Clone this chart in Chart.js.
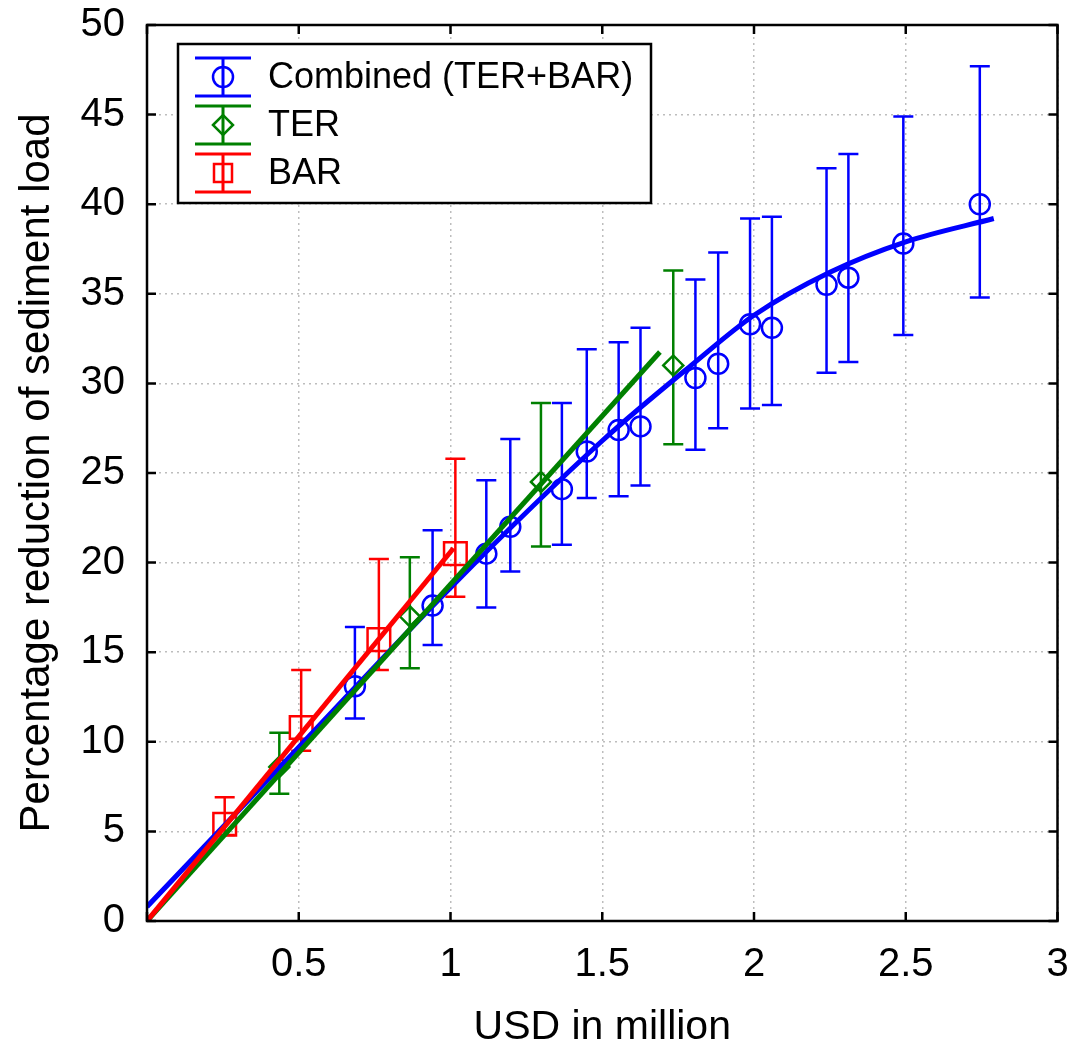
<!DOCTYPE html>
<html>
<head>
<meta charset="utf-8">
<script src="https://cdn.jsdelivr.net/npm/chart.js@4.4.1/dist/chart.umd.min.js"></script>
<style>
body { margin: 0; background: #fff; }
#wrap { width: 1076px; height: 1052px; }
</style>
</head>
<body>
<div id="wrap"><canvas id="chart"></canvas></div>
<script>
// observed points (x in million USD, y in %), with error bar ends
var combinedX = [0.685, 0.941, 1.118, 1.197, 1.367, 1.449, 1.554, 1.626, 1.807, 1.882, 1.987, 2.059, 2.239, 2.311, 2.492, 2.744];
var combinedY = [13.1, 17.6, 20.5, 22.0, 24.1, 26.2, 27.4, 27.6, 30.3, 31.1, 33.3, 33.1, 35.5, 35.9, 37.8, 40.0];
var combinedLow = [11.3, 15.4, 17.5, 19.5, 21.0, 23.6, 23.7, 24.3, 26.3, 27.5, 28.6, 28.8, 30.6, 31.2, 32.7, 34.8];
var combinedHigh = [16.4, 21.8, 24.6, 26.9, 28.9, 31.9, 32.3, 33.1, 35.8, 37.3, 39.2, 39.3, 42.0, 42.8, 44.9, 47.7];

var terX = [0.436, 0.866, 1.298, 1.734];
var terY = [8.6, 17.0, 24.5, 31.0];
var terLow = [7.1, 14.1, 20.9, 26.6];
var terHigh = [10.5, 20.3, 28.9, 36.3];

var barX = [0.256, 0.508, 0.764, 1.016];
var barY = [5.4, 10.8, 15.7, 20.5];
var barLow = [4.8, 9.5, 14.0, 18.1];
var barHigh = [6.9, 14.0, 20.2, 25.8];

// fitted curves
var fitCombinedX = [0, 0.5, 1, 1.5, 1.8, 2, 2.25, 2.5, 2.79];
var fitCombinedY = [0.8, 9.7, 18.6, 26.8, 31.1, 33.8, 36.2, 37.9, 39.2];
var fitTerX = [0, 1.69];
var fitTerY = [0, 31.75];
var fitBarX = [0, 1.01];
var fitBarY = [0, 20.8];

var xTickValues = [0, 0.5, 1, 1.5, 2, 2.5, 3];
var yTickValues = [0, 5, 10, 15, 20, 25, 30, 35, 40, 45, 50];

var FONT = "'Liberation Sans', Arial, sans-serif";
var BLUE = "#0000ff", GREEN = "#008000", RED = "#ff0000";

function toPoints(xs, ys) {
    var pts = [];
    for (var i = 0; i < xs.length; i++) pts.push({ x: xs[i], y: ys[i] });
    return pts;
}

function drawMarker(ctx, style, x, y, r) {
    ctx.beginPath();
    if (style === "circle") {
        ctx.arc(x, y, r, 0, Math.PI * 2);
    } else if (style === "rectRot") {
        ctx.moveTo(x - r, y); ctx.lineTo(x, y - r); ctx.lineTo(x + r, y); ctx.lineTo(x, y + r);
        ctx.closePath();
    } else {
        ctx.rect(x - r, y - r, 2 * r, 2 * r);
    }
    ctx.stroke();
}

var plotExtras = {
    id: "plotExtras",
    beforeDatasetsDraw: function (chart) {
        var ctx = chart.ctx, ys = chart.scales.y;
        ctx.save();
        chart.data.datasets.forEach(function (ds, i) {
            if (!ds.errLow) return;
            var meta = chart.getDatasetMeta(i);
            ctx.strokeStyle = ds.borderColor;
            ctx.lineWidth = 2.5;
            meta.data.forEach(function (pt, j) {
                var top = ys.getPixelForValue(ds.errHigh[j]);
                var bot = ys.getPixelForValue(ds.errLow[j]);
                ctx.beginPath();
                ctx.moveTo(pt.x, top); ctx.lineTo(pt.x, bot);
                ctx.moveTo(pt.x - 10, top); ctx.lineTo(pt.x + 10, top);
                ctx.moveTo(pt.x - 10, bot); ctx.lineTo(pt.x + 10, bot);
                ctx.stroke();
            });
        });
        ctx.restore();
    },
    afterDatasetsDraw: function (chart) {
        var ctx = chart.ctx, a = chart.chartArea;
        var xs = chart.scales.x, ys = chart.scales.y;
        ctx.save();
        // frame and inward ticks
        ctx.strokeStyle = "#000";
        ctx.lineWidth = 2.5;
        ctx.strokeRect(a.left, a.top, a.right - a.left, a.bottom - a.top);
        ctx.beginPath();
        xTickValues.forEach(function (v) {
            var px = xs.getPixelForValue(v);
            ctx.moveTo(px, a.bottom); ctx.lineTo(px, a.bottom - 9);
            ctx.moveTo(px, a.top); ctx.lineTo(px, a.top + 9);
        });
        yTickValues.forEach(function (v) {
            var py = ys.getPixelForValue(v);
            ctx.moveTo(a.left, py); ctx.lineTo(a.left + 9, py);
            ctx.moveTo(a.right, py); ctx.lineTo(a.right - 9, py);
        });
        ctx.stroke();

        // legend box
        var bx = a.left + 31, by = a.top + 19, bw = 473, bh = 159;
        ctx.fillStyle = "#fff";
        ctx.fillRect(bx, by, bw, bh);
        ctx.lineWidth = 2.5;
        ctx.strokeRect(bx, by, bw, bh);
        var entries = chart.data.datasets.filter(function (d) { return d.errLow; });
        entries.forEach(function (ds, k) {
            var cy = by + 33 + k * 48;
            var cx = bx + 45;
            ctx.strokeStyle = ds.borderColor;
            ctx.lineWidth = 3;
            ctx.beginPath();
            ctx.moveTo(cx - 28, cy - 19); ctx.lineTo(cx + 28, cy - 19);
            ctx.moveTo(cx - 28, cy + 19); ctx.lineTo(cx + 28, cy + 19);
            ctx.moveTo(cx, cy - 19); ctx.lineTo(cx, cy + 19);
            ctx.stroke();
            ctx.lineWidth = 2.5;
            drawMarker(ctx, ds.pointStyle, cx, cy, ds.pointStyle === "rect" ? 9 : 10);
            ctx.fillStyle = "#000";
            ctx.font = "36px " + FONT;
            ctx.textBaseline = "middle";
            ctx.textAlign = "left";
            ctx.fillText(ds.label, bx + 90, cy + 1);
        });
        ctx.restore();
    }
};

var chart = new Chart(document.getElementById("chart"), {
    type: "scatter",
    data: {
        datasets: [
            {
                label: "Combined (TER+BAR)",
                data: toPoints(combinedX, combinedY),
                errLow: combinedLow, errHigh: combinedHigh,
                pointStyle: "circle", pointRadius: 10, pointBorderWidth: 2.5,
                borderColor: BLUE, backgroundColor: "rgba(0,0,0,0)",
                order: 6
            },
            {
                label: "TER",
                data: toPoints(terX, terY),
                errLow: terLow, errHigh: terHigh,
                pointStyle: "rectRot", pointRadius: 10, pointBorderWidth: 2.5,
                borderColor: GREEN, backgroundColor: "rgba(0,0,0,0)",
                order: 5
            },
            {
                label: "BAR",
                data: toPoints(barX, barY),
                errLow: barLow, errHigh: barHigh,
                pointStyle: "rect", pointRadius: 16, pointBorderWidth: 2.5,
                borderColor: RED, backgroundColor: "rgba(0,0,0,0)",
                order: 4
            },
            {
                label: "fit combined",
                data: toPoints(fitCombinedX, fitCombinedY),
                showLine: true, pointRadius: 0, borderWidth: 5,
                borderColor: BLUE, cubicInterpolationMode: "monotone",
                order: 3
            },
            {
                label: "fit TER",
                data: toPoints(fitTerX, fitTerY),
                showLine: true, pointRadius: 0, borderWidth: 5,
                borderColor: GREEN,
                order: 2
            },
            {
                label: "fit BAR",
                data: toPoints(fitBarX, fitBarY),
                showLine: true, pointRadius: 0, borderWidth: 5,
                borderColor: RED,
                order: 1
            }
        ]
    },
    options: {
        responsive: true,
        maintainAspectRatio: false,
        animation: false,
        layout: { padding: { left: 0, right: 4, top: 25, bottom: 0 } },
        plugins: {
            legend: { display: false },
            tooltip: { enabled: false }
        },
        scales: {
            x: {
                type: "linear",
                min: 0, max: 3,
                afterBuildTicks: function (s) { s.ticks = xTickValues.map(function (v) { return { value: v }; }); },
                afterFit: function (s) { s.height = 131; s.paddingLeft = 0; s.paddingRight = 0; },
                ticks: {
                    color: "#000",
                    font: { family: FONT, size: 40 },
                    padding: 20,
                    maxRotation: 0,
                    callback: function (v) { return v === 0 ? "" : String(v); }
                },
                grid: { color: "#bdbdbd", lineWidth: 1.5, drawTicks: false },
                border: { display: false, dash: [2, 4] },
                title: {
                    display: true, text: "USD in million", color: "#000",
                    font: { family: FONT, size: 41 },
                    padding: { top: 20, bottom: 0 }
                }
            },
            y: {
                min: 0, max: 50,
                afterBuildTicks: function (s) { s.ticks = yTickValues.map(function (v) { return { value: v }; }); },
                afterFit: function (s) { s.width = 147; s.paddingTop = 0; s.paddingBottom = 0; },
                ticks: {
                    color: "#000",
                    font: { family: FONT, size: 40 },
                    padding: 22
                },
                grid: { color: "#bdbdbd", lineWidth: 1.5, drawTicks: false },
                border: { display: false, dash: [2, 4] },
                title: {
                    display: true, text: "Percentage reduction of sediment load", color: "#000",
                    font: { family: FONT, size: 42 },
                    padding: { top: 12, bottom: 6 }
                }
            }
        }
    },
    plugins: [plotExtras]
});
</script>
</body>
</html>
